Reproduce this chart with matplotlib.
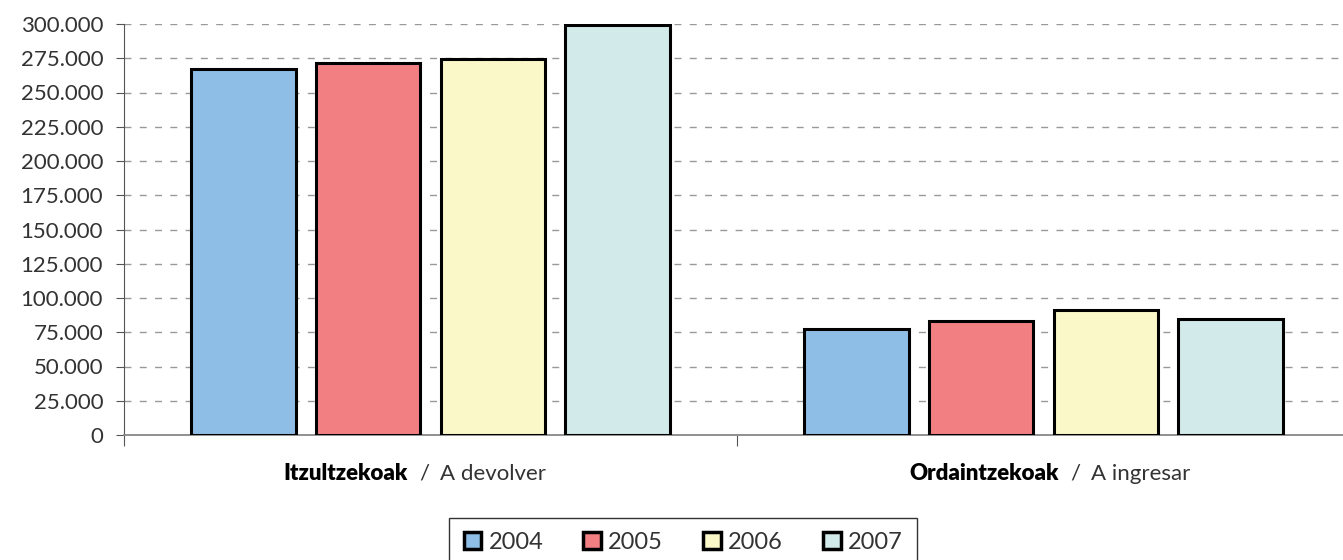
import matplotlib
matplotlib.use('Agg')
import matplotlib.pyplot as plt
import matplotlib.patches as mpatches
import numpy as np
from matplotlib.ticker import FuncFormatter, MultipleLocator

# datos
categorias_bold = ['Itzultzekoak', 'Ordaintzekoak']
categorias_light = ['A devolver', 'A ingresar']
anios = ['2004', '2005', '2006', '2007']
valores = {
    '2004': [267000, 77400],
    '2005': [271400, 83200],
    '2006': [274300, 91500],
    '2007': [299600, 84500],
}
colores = ['#8EBEE6', '#F28083', '#FAF8C8', '#D2EAEA']

plt.rcParams['font.family'] = ['Lato', 'DejaVu Sans']
gris = '#333333'

fig = plt.figure(figsize=(13.43, 5.6), dpi=100)
W, H = 1343, 560
ax = fig.add_axes([124 / W, (H - 435) / H, 1226 / W, 411 / H])

x = np.arange(len(categorias_bold))
offsets = [-0.305, -0.102, 0.102, 0.305]
ancho = 0.17
for i, a in enumerate(anios):
    ax.bar(x + offsets[i], valores[a], ancho, color=colores[i], edgecolor='black',
           linewidth=2.2, zorder=3)

ax.set_xlim(-0.5, 1.5)
ax.set_ylim(0, 300000)
ax.yaxis.set_major_locator(MultipleLocator(25000))
ax.yaxis.set_major_formatter(FuncFormatter(lambda v, p: f'{int(v):,}'.replace(',', '.')))
ax.grid(axis='y', color='#999999', linestyle=(0, (5, 6)), linewidth=1.0, zorder=0)
ax.set_axisbelow(True)

for s in ['top', 'right']:
    ax.spines[s].set_visible(False)
ax.spines['left'].set_color('#555555')
ax.spines['bottom'].set_color('#888888')
ax.spines['bottom'].set_linewidth(1.3)
ax.tick_params(axis='y', length=6, color='#555555', labelsize=16, labelcolor=gris, pad=9)
ax.set_xticks([-0.5, 0.5, 1.5])
ax.set_xticklabels([])
ax.tick_params(axis='x', length=8, color='#555555', direction='out')

# etiquetas de categoria
barra_pos = [-0.01, 0.052]
for i in range(len(categorias_bold)):
    xs = x[i] + barra_pos[i]
    ax.annotate('/', (xs, 0), xycoords=('data', 'axes fraction'), xytext=(0, -28),
                textcoords='offset points', ha='center', va='center', fontsize=16,
                color=gris)
    ax.annotate(categorias_bold[i], (xs, 0), xycoords=('data', 'axes fraction'), xytext=(-12, -28),
                textcoords='offset points', ha='right', va='center', fontsize=16,
                color='black', fontweight='heavy')
    ax.annotate(categorias_light[i], (xs, 0), xycoords=('data', 'axes fraction'), xytext=(11, -28),
                textcoords='offset points', ha='left', va='center', fontsize=16,
                color=gris)

handles = [mpatches.Patch(facecolor=c, edgecolor='black', linewidth=2.5, label=a)
           for a, c in zip(anios, colores)]
leg = fig.legend(handles=handles, loc='upper center', bbox_to_anchor=(683 / W, 1 - 506 / H),
                 ncol=4, fontsize=17, frameon=True, fancybox=False, edgecolor='black',
                 handlelength=0.75, handleheight=0.75, handletextpad=0.3, columnspacing=1.7,
                 borderpad=0.6)
leg.get_frame().set_linewidth(1.0)
for t in leg.get_texts():
    t.set_color(gris)

fig.savefig('out.png', dpi=100)
